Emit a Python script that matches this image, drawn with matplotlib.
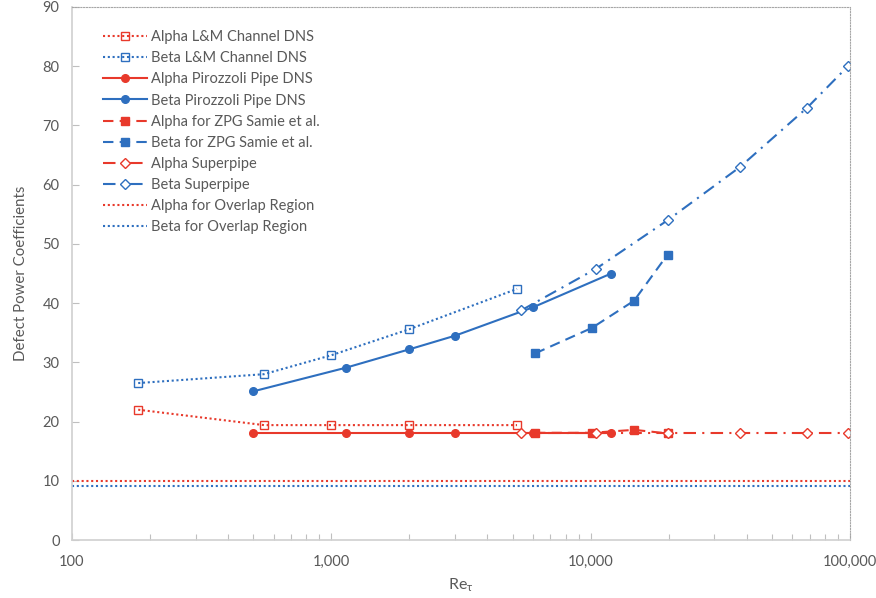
import matplotlib
matplotlib.use("Agg")
import matplotlib.pyplot as plt
from matplotlib.ticker import FixedLocator, LogLocator, NullFormatter, FuncFormatter

plt.rcParams['font.family'] = ['Lato', 'DejaVu Sans']
plt.rcParams['mathtext.fontset'] = 'custom'
plt.rcParams['mathtext.rm'] = 'Lato'

RED = "#E8392B"
BLUE = "#2E6FBF"
GREY = "#595959"

# Lee & Moser channel DNS
re_channel = [180, 550, 1000, 2000, 5200]
alpha_channel = [22.0, 19.4, 19.4, 19.4, 19.4]
beta_channel = [26.5, 28.0, 31.2, 35.6, 42.4]

# Pirozzoli pipe DNS
re_pipe = [500, 1140, 2000, 3000, 6000, 12000]
alpha_pipe = [18.1, 18.1, 18.1, 18.1, 18.1, 18.1]
beta_pipe = [25.1, 29.1, 32.2, 34.5, 39.3, 45.0]

# Samie et al. zero-pressure-gradient boundary layer
re_zpg = [6100, 10100, 14700, 19800]
alpha_zpg = [18.1, 18.1, 18.6, 18.0]
beta_zpg = [31.5, 35.8, 40.4, 48.2]

# Princeton Superpipe
re_superpipe = [5411, 10481, 19810, 37690, 68371, 98190]
alpha_superpipe = [18.1, 18.1, 18.1, 18.1, 18.1, 18.1]
beta_superpipe = [38.8, 45.8, 54.0, 63.0, 73.0, 80.0]

# Overlap-region reference values
re_span = [100, 100000]
alpha_overlap = 9.95
beta_overlap = 9.2

fig = plt.figure(figsize=(8.76, 5.98), dpi=100)
ax = fig.add_axes([72 / 876, 58 / 598, 778 / 876, 533 / 598])

dot = (0, (1, 1.3))
dash = (0, (5, 3))
dashdot = (0, (6, 3, 1, 3))
lw = 1.5

ax.plot(re_channel, alpha_channel, color=RED, ls=dot, lw=lw, marker='s', ms=6,
        mfc='none', mec=RED, mew=1.0, label='Alpha L&M Channel DNS')
ax.plot(re_channel, beta_channel, color=BLUE, ls=dot, lw=lw, marker='s', ms=6,
        mfc='none', mec=BLUE, mew=1.0, label='Beta L&M Channel DNS')
ax.plot(re_pipe, alpha_pipe, color=RED, ls='-', lw=lw, marker='o', ms=5.5,
        label='Alpha Pirozzoli Pipe DNS')
ax.plot(re_pipe, beta_pipe, color=BLUE, ls='-', lw=lw, marker='o', ms=5.5,
        label='Beta Pirozzoli Pipe DNS')
ax.plot(re_zpg, alpha_zpg, color=RED, ls=dash, lw=lw, marker='s', ms=5.5,
        label='Alpha for ZPG Samie et al.')
ax.plot(re_zpg, beta_zpg, color=BLUE, ls=dash, lw=lw, marker='s', ms=5.5,
        label='Beta for ZPG Samie et al.')
ax.plot(re_superpipe, alpha_superpipe, color=RED, ls=dashdot, lw=lw, marker='D',
        ms=5.5, mfc='white', mec=RED, mew=1.0, label='Alpha Superpipe')
ax.plot(re_superpipe, beta_superpipe, color=BLUE, ls=dashdot, lw=lw, marker='D',
        ms=5.5, mfc='white', mec=BLUE, mew=1.0, label='Beta Superpipe')
ax.plot(re_span, [alpha_overlap] * 2, color=RED, ls=dot, lw=lw,
        label='Alpha for Overlap Region')
ax.plot(re_span, [beta_overlap] * 2, color=BLUE, ls=dot, lw=lw,
        label='Beta for Overlap Region')

ax.set_xscale('log')
ax.set_xlim(100, 100000)
ax.set_ylim(0, 90)
ax.yaxis.set_major_locator(FixedLocator(range(0, 91, 10)))
ax.xaxis.set_major_locator(FixedLocator([100, 1000, 10000, 100000]))
ax.xaxis.set_major_formatter(FuncFormatter(lambda v, p: f"{int(v):,}"))
ax.xaxis.set_minor_locator(LogLocator(base=10, subs=range(2, 10)))
ax.xaxis.set_minor_formatter(NullFormatter())

ax.tick_params(axis='both', which='both', direction='in', colors='#BFBFBF',
               labelcolor=GREY, labelsize=10.5)
ax.tick_params(axis='both', which='major', length=5, width=0.8)
ax.tick_params(axis='x', which='minor', length=4, width=0.8)
ax.tick_params(axis='x', pad=11)
ax.tick_params(axis='y', pad=9)

for side in ('left', 'bottom'):
    ax.spines[side].set_color('#D0D0D0')
    ax.spines[side].set_linewidth(1.2)
for side in ('top', 'right'):
    ax.spines[side].set_color('#A6A6A6')
    ax.spines[side].set_linewidth(0.8)
    ax.spines[side].set_linestyle((0, (1, 1.5)))

ax.set_xlabel(r'Re$_{\mathregular{τ}}$', fontsize=11.5, color=GREY, labelpad=5)
ax.set_ylabel('Defect Power Coefficients', fontsize=10.8, color=GREY, labelpad=10)

leg = ax.legend(loc='upper left', bbox_to_anchor=(0.028, 0.973), frameon=False,
                fontsize=10.5, handlelength=3.08, handletextpad=0.27,
                labelspacing=0.49, borderaxespad=0.2)
for t in leg.get_texts():
    t.set_color(GREY)

fig.savefig('out.png', dpi=100, facecolor='white')
